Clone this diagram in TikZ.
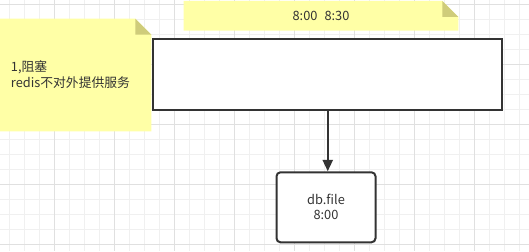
\documentclass[tikz,border=0pt]{standalone}
\usepackage{fontspec}
\setmainfont{Noto Sans CJK SC}
\usetikzlibrary{positioning,backgrounds,arrows.meta}
\definecolor{NoteYellow}{RGB}{255,255,166}
\definecolor{NoteFold}{RGB}{207,204,122}
\definecolor{InkGray}{RGB}{51,51,51}
\definecolor{GridMinor}{RGB}{240,240,240}
\definecolor{GridMajor}{RGB}{224,224,224}
\tikzset{
	note/.style={inner sep=0pt,text=InkGray,font=\fontsize{9.6}{12}\selectfont},
	block/.style={draw=InkGray,line width=1.5pt,fill=white,inner sep=0pt},
	file/.style={block,rounded corners=3pt,align=center,text=InkGray,font=\fontsize{9.6}{11.25}\selectfont},
	flow/.style={draw=InkGray,line width=1.5pt,-{Triangle[length=8.5pt,width=7.5pt]}},
	grid line/.style={draw=GridMinor,line width=0.75pt},
	grid major/.style={draw=GridMajor,line width=0.75pt},
}

\begin{document}
\begin{tikzpicture}[x=0.75pt,y=-0.75pt]
	\useasboundingbox (0,0) rectangle (529,251);
	% sticky notes
	\node[note,minimum width=113.25pt,minimum height=84pt,text width=96.75pt,align=left] (hold) at (75.5,75) {1,阻塞\\redis不对外提供服务};
	\node[note,minimum width=205.5pt,minimum height=22pt] (times) at (321,15.75) {8:00\hspace{0.55em}8:30};
	% boxes
	\node[block,minimum width=261.75pt,minimum height=53.25pt] (rdb) at (327.75,74.3) {};
	\node[file,minimum width=74.25pt,minimum height=52.5pt] (dump) at (326,207.3) {db.file\\8:00};
	\draw[flow] (rdb.south) -- (rdb.south |- dump.north);
	\begin{pgfonlayer}{background}
		\fill[white] (0,0) rectangle (529,251);
		% paper grid
		\foreach \k in {0,...,34}
		\draw[grid line] ({9.3+15*\k},0) -- ++(0,251);
		\foreach \k in {0,...,16}
		\draw[grid line] (0,{4.3+15*\k}) -- ++(529,0);
		\foreach \x in {54.3,114.3,...,530}
		\draw[grid major] (\x,0) -- ++(0,251);
		\foreach \y in {4.3,64.3,...,250}
		\draw[grid major] (0,\y) -- ++(529,0);
		% note paper with folded corner
		\foreach \n in {hold,times} {
			\fill[NoteYellow] (\n.north west) -- ([xshift=-12pt]\n.north east) -- ([yshift=-12pt]\n.north east) -- (\n.south east) -- (\n.south west) -- cycle;
			\fill[NoteFold] ([xshift=-12pt]\n.north east) -- ([xshift=-12pt,yshift=-12pt]\n.north east) -- ([yshift=-12pt]\n.north east) -- cycle;
		}
	\end{pgfonlayer}
\end{tikzpicture}
\end{document}
